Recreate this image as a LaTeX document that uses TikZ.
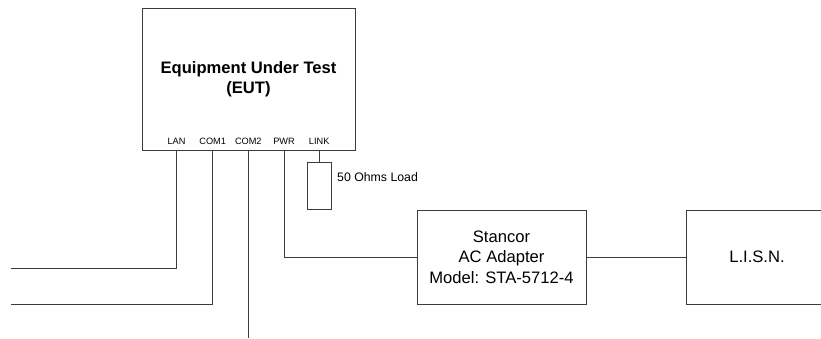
\documentclass[tikz,border=0pt]{standalone}
\usepackage{fontspec}
\setmainfont{Liberation Sans}
\usetikzlibrary{positioning,calc}
\definecolor{wiregray}{HTML}{3C3C3C}

\begin{document}
\begin{tikzpicture}[
  x=1pt, y=-1pt,
  box/.style={draw=wiregray, line width=1pt, inner sep=0pt, align=center, font=\fontsize{16.6}{20.5}\selectfont},
  port/.style={inner sep=0pt, font=\fontsize{9.2}{11}\selectfont},
  cable/.style={draw=wiregray, line width=1pt},
]
\clip (0,0) rectangle (821,338);

% equipment under test
\node[box, minimum width=213pt, minimum height=142pt, font=\bfseries\fontsize{16.6}{20}\selectfont] (eut) at (248.5,79) {Equipment Under Test\\(EUT)};

\node[port] (lan) at (176.5,141) {LAN};
\node[port] (comone) at (212.7,141) {COM1};
\node[port] (comtwo) at (248.3,141) {COM2};
\node[port] (pwr) at (284,141) {PWR};
\node[port] (link) at (319.2,141) {LINK};

% load on the link port
\node[box, minimum width=24pt, minimum height=47pt] (load) at (319.2,185.5) {};
\node[anchor=west, inner sep=0pt, font=\fontsize{12.3}{14}\selectfont] (loadlbl) at (337,177) {50 Ohms Load};

% power chain
\node[box, minimum width=169pt, minimum height=94pt] (adapter) at (501.5,257) {Stancor\\AC Adapter\\Model: STA-5712-4};
\node[box, minimum width=142pt, minimum height=94pt] (lisn) at (757,257) {L.I.S.N.};

\coordinate (lanend) at (11,268);
\coordinate (comoneend) at (11,304);
\coordinate (comtwoend) at (248.3,338);

\draw[cable] (lan |- eut.south) -- (lan |- lanend) -- (lanend);
\draw[cable] (comone |- eut.south) -- (comone |- comoneend) -- (comoneend);
\draw[cable] (comtwo |- eut.south) -- (comtwoend);
\draw[cable] (pwr |- eut.south) -- (pwr |- adapter.west) -- (adapter.west);
\draw[cable] (link |- eut.south) -- (load.north);
\draw[cable] (adapter.east) -- (lisn.west);

\end{tikzpicture}
\end{document}
